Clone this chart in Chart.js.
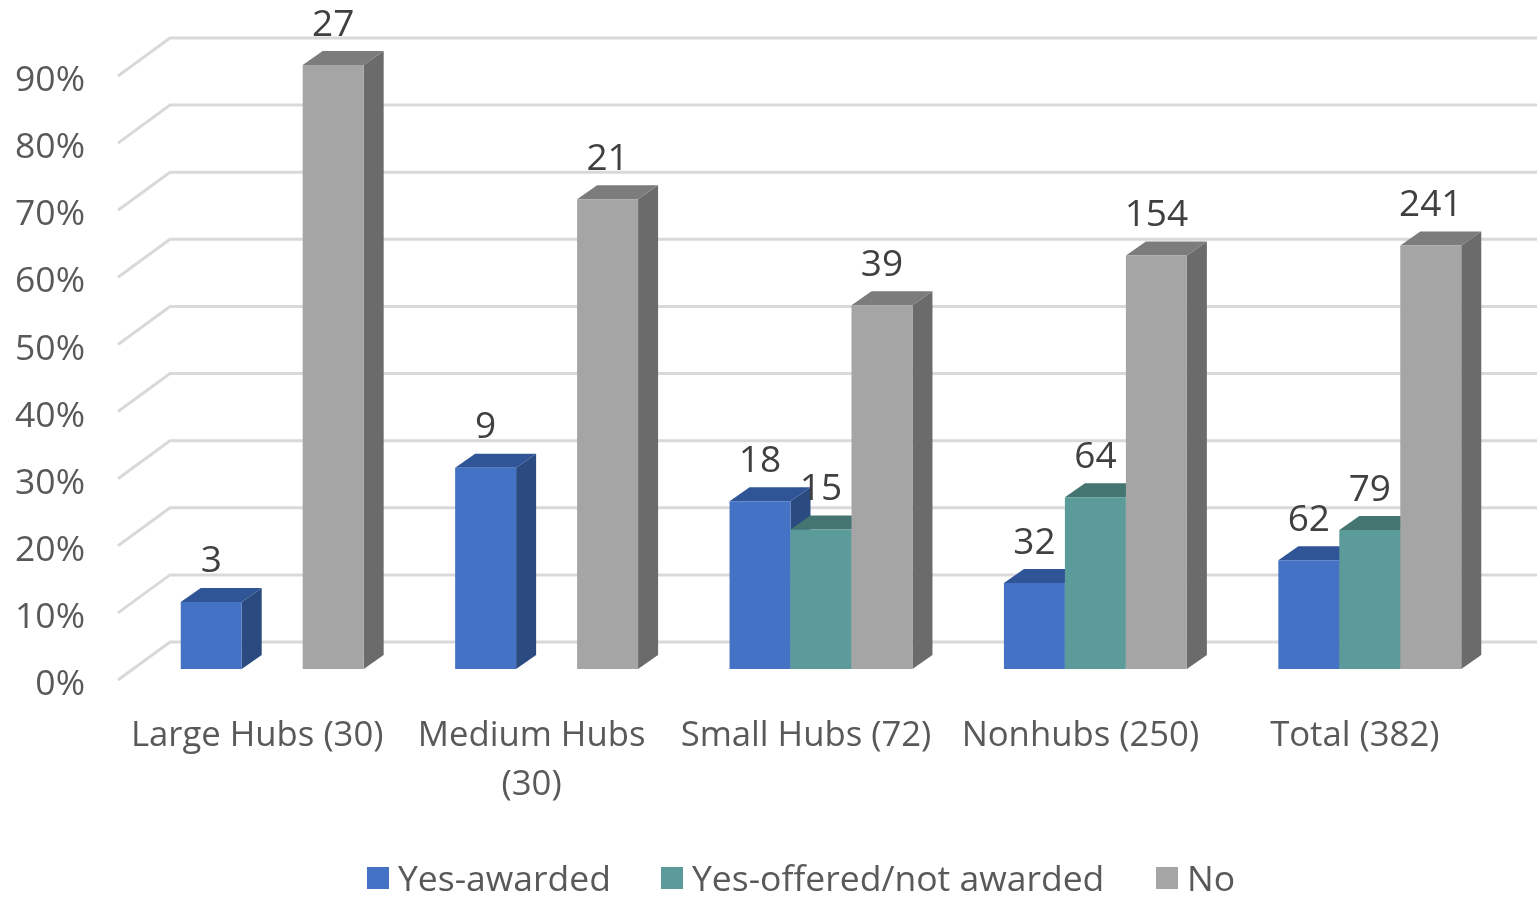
<!DOCTYPE html>
<html>
<head>
<meta charset="utf-8">
<title>Hubs chart</title>
<script src="https://cdn.jsdelivr.net/npm/chart.js@4"></script>
<style>
    html, body { margin: 0; padding: 0; background: #fff; }
    canvas { display: block; }
</style>
</head>
<body>
<canvas id="chart" width="1537" height="897"></canvas>
<script>
const categories = ["Large Hubs (30)", ["Medium Hubs", "(30)"], "Small Hubs (72)", "Nonhubs (250)", "Total (382)"];
const seriesNames = ["Yes-awarded", "Yes-offered/not awarded", "No"];

// share of airports in percent
const awardedPct = [10, 30, 25, 12.8, 16.2];
const offeredPct = [null, null, 20.8, 25.6, 20.7];
const noPct = [90, 70, 54.2, 61.6, 63.1];

// counts printed above the bars
const awardedCounts = [3, 9, 18, 32, 62];
const offeredCounts = [null, null, 15, 64, 79];
const noCounts = [27, 21, 39, 154, 241];

const TEXT_COLOR = "#595959";
const FONT_FAMILY = "'Open Sans', sans-serif";

// bar depth, in pixels
const DEPTH_X = 20;
const DEPTH_Y = 14;

// Back wall gridlines plus the short diagonal running to the axis labels
const wallGrid = {
    id: "wallGrid",
    beforeDatasetsDraw(chart) {
        const { ctx, scales: { y } } = chart;
        ctx.save();
        ctx.strokeStyle = "#D9D9D9";
        ctx.lineWidth = 3;
        y.ticks.forEach(tick => {
            const py = y.getPixelForValue(tick.value);
            ctx.beginPath();
            ctx.moveTo(118, py + 11);
            ctx.lineTo(170, py - 27);
            ctx.lineTo(1537, py - 27);
            ctx.stroke();
        });
        ctx.restore();
    }
};

function fillFace(ctx, color, points) {
    ctx.fillStyle = color;
    ctx.beginPath();
    points.forEach((p, i) => i ? ctx.lineTo(p[0], p[1]) : ctx.moveTo(p[0], p[1]));
    ctx.closePath();
    ctx.fill();
}

// Draws the bars left to right, each with a side and a top face, then the value labels
const bars3d = {
    id: "bars3d",
    beforeDatasetDraw() {
        return false;
    },
    afterDatasetsDraw(chart) {
        const { ctx } = chart;
        const count = chart.data.labels.length;

        for (let c = 0; c < count; c++) {
            chart.data.datasets.forEach((ds, d) => {
                if (ds.data[c] === null) return;
                const bar = chart.getDatasetMeta(d).data[c];
                const left = bar.x - bar.width / 2;
                const right = bar.x + bar.width / 2;
                const top = bar.y;
                const base = bar.base;

                fillFace(ctx, ds.sideColor, [
                    [right, top], [right + DEPTH_X, top - DEPTH_Y],
                    [right + DEPTH_X, base - DEPTH_Y], [right, base]
                ]);
                fillFace(ctx, ds.topColor, [
                    [left, top], [left + DEPTH_X, top - DEPTH_Y],
                    [right + DEPTH_X, top - DEPTH_Y], [right, top]
                ]);
                bar.draw(ctx);
            });
        }

        ctx.save();
        ctx.fillStyle = "#404040";
        ctx.font = `37px ${FONT_FAMILY}`;
        ctx.textAlign = "center";
        ctx.textBaseline = "middle";
        chart.data.datasets.forEach((ds, d) => {
            chart.getDatasetMeta(d).data.forEach((bar, i) => {
                if (ds.counts[i] === null) return;
                ctx.fillText(ds.counts[i], bar.x, bar.y - 40);
            });
        });
        ctx.restore();
    }
};

// Legend row with the tight swatch spacing used on this chart
const legendRow = {
    id: "legendRow",
    afterDraw(chart) {
        const { ctx } = chart;
        const swatchLeft = [367, 661, 1156];
        ctx.save();
        ctx.font = `35.5px ${FONT_FAMILY}`;
        ctx.textAlign = "left";
        ctx.textBaseline = "middle";
        chart.data.datasets.forEach((ds, d) => {
            ctx.fillStyle = ds.backgroundColor;
            ctx.fillRect(swatchLeft[d], 867, 22, 22);
            ctx.fillStyle = TEXT_COLOR;
            ctx.fillText(ds.label, swatchLeft[d] + 31, 881);
        });
        ctx.restore();
    }
};

new Chart(document.getElementById("chart").getContext("2d"), {
    type: "bar",
    data: {
        labels: categories,
        datasets: [
            { label: seriesNames[0], data: awardedPct, counts: awardedCounts, backgroundColor: "#4472C4", sideColor: "#2A4A80", topColor: "#2F5597" },
            { label: seriesNames[1], data: offeredPct, counts: offeredCounts, backgroundColor: "#5B9B99", sideColor: "#3B6664", topColor: "#447571" },
            { label: seriesNames[2], data: noPct, counts: noCounts, backgroundColor: "#A5A5A5", sideColor: "#6B6B6B", topColor: "#7C7C7C" }
        ]
    },
    plugins: [wallGrid, bars3d, legendRow],
    options: {
        responsive: false,
        animation: false,
        layout: { padding: { top: 65, right: 30, left: 0, bottom: 0 } },
        datasets: { bar: { categoryPercentage: 2 / 3, barPercentage: 1 } },
        plugins: {
            legend: { display: false },
            tooltip: { enabled: false }
        },
        scales: {
            x: {
                grid: { display: false },
                border: { display: false },
                afterFit(scale) { scale.height = 228; },
                ticks: {
                    color: TEXT_COLOR,
                    font: { family: FONT_FAMILY, size: 34.7, lineHeight: 1.42 },
                    padding: 34,
                    labelOffset: -15,
                    maxRotation: 0,
                    autoSkip: false
                }
            },
            y: {
                min: 0,
                max: 90,
                grid: { display: false },
                border: { display: false },
                afterFit(scale) {
                    scale.width = 135;
                    scale.paddingTop = 0;
                    scale.paddingBottom = 0;
                },
                ticks: {
                    stepSize: 10,
                    color: TEXT_COLOR,
                    font: { family: FONT_FAMILY, size: 35.5 },
                    padding: 42,
                    labelOffset: 16,
                    callback: value => value + "%"
                }
            }
        }
    }
});
</script>
</body>
</html>
